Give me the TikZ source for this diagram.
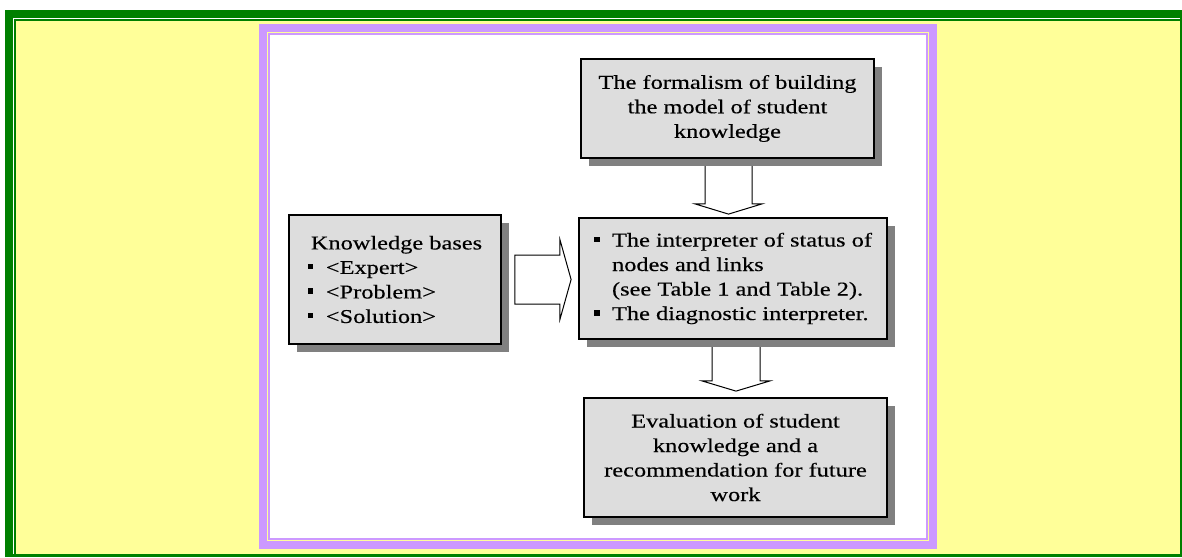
\documentclass[tikz,border=0pt]{standalone}
\usepackage{fontspec}
\setmainfont{Liberation Serif}[FakeStretch=1.25,FakeBold=0.3]
\usetikzlibrary{calc,shadows}
\definecolor{framegreen}{HTML}{008000}
\definecolor{paneyellow}{HTML}{FFFF99}
\definecolor{framepurple}{HTML}{CC99FF}
\definecolor{boxgray}{HTML}{DDDDDD}
\definecolor{shadowgray}{HTML}{808080}
\pgfdeclarelayer{frame}
\pgfdeclarelayer{arrows}
\pgfsetlayers{frame,arrows,main}
% small square bullet followed by the item indent
\newcommand\sqbul{\makebox[18pt][l]{\raisebox{4.5pt}{\rule{5.5pt}{5.5pt}}}}
\newcommand\bulindent{\hspace*{18pt}}
\begin{document}
\begin{tikzpicture}[x=1pt,y=-1pt,
  box/.style={draw=black, line width=1.8pt, fill=boxgray, inner sep=0pt,
    font=\fontsize{19.5}{24.5}\selectfont,
    drop shadow={shadow xshift=8pt, shadow yshift=-8pt, fill=shadowgray, opacity=1}},
  blockarrow/.style={draw=black, line width=1pt, fill=white, line join=miter}]
\useasboundingbox (0,0) rectangle (1182,557);

% page frame: ridged green border around the yellow pane
\begin{pgfonlayer}{frame}
  \fill[white] (0,0) rectangle (1182,557);
  \fill[framegreen] (5,10) rectangle (1182,557);
  \fill[white] (13,18) rectangle (1180,554);
  \fill[framegreen] (14,19) rectangle (1180,554);
  \fill[paneyellow] (16,21) rectangle (1180,554);
  % lilac picture frame
  \fill[framepurple] (259,24) rectangle (937,549);
  \fill[paneyellow] (267,32) rectangle (929,541);
  \fill[framepurple] (268,33) rectangle (928,540);
  \fill[white] (270,35) rectangle (926,538);
\end{pgfonlayer}

% boxes
\node[box, minimum width=293pt, minimum height=99pt, align=center] (form) at (727.5,108.5)
  {The formalism of building\\the model of student\\knowledge};
\node[box, minimum width=308pt, minimum height=121pt, align=left] (interp) at (733,278.5)
  {\sqbul The interpreter of status of\\
   \bulindent nodes and links\\
   \bulindent (see Table 1 and Table 2).\\
   \sqbul The diagnostic interpreter.};
\node[box, minimum width=303pt, minimum height=119pt, align=center] (eval) at (735.5,457.5)
  {Evaluation of student\\knowledge and a\\recommendation for future\\work};
\node[box, minimum width=212pt, minimum height=129pt, align=left] (kb) at (395,279.5)
  {\hspace*{3pt}Knowledge bases\\
   \sqbul <Expert>\\
   \sqbul <Problem>\\
   \sqbul <Solution>};

% hollow block arrows
\begin{pgfonlayer}{arrows}
  \coordinate (a1) at ($(form.south)+(1,0)$);
  \draw[blockarrow] ($(a1)+(-23.5,0)$) -- ($(a1)+(-23.5,45)$) -- ($(a1)+(-33.5,45)$)
    -- ($(a1 |- interp.north)+(0,-3)$) -- ($(a1)+(33.5,45)$) -- ($(a1)+(23.5,45)$)
    -- ($(a1)+(23.5,0)$);
  \coordinate (a2) at ($(interp.south)+(3,0)$);
  \draw[blockarrow] ($(a2)+(-24,0)$) -- ($(a2)+(-24,41)$) -- ($(a2)+(-34,41)$)
    -- ($(a2 |- eval.north)+(0,-6)$) -- ($(a2)+(34,41)$) -- ($(a2)+(24,41)$)
    -- ($(a2)+(24,0)$);
  \coordinate (a3) at (kb.east);
  \draw[blockarrow] ($(a3)+(13,-24.5)$) -- ($(a3)+(58,-24.5)$) -- ($(a3)+(58,-40)$)
    -- ($(a3 -| interp.west)+(-7,0)$) -- ($(a3)+(58,40)$) -- ($(a3)+(58,24.5)$)
    -- ($(a3)+(13,24.5)$) -- cycle;
\end{pgfonlayer}
\end{tikzpicture}
\end{document}
